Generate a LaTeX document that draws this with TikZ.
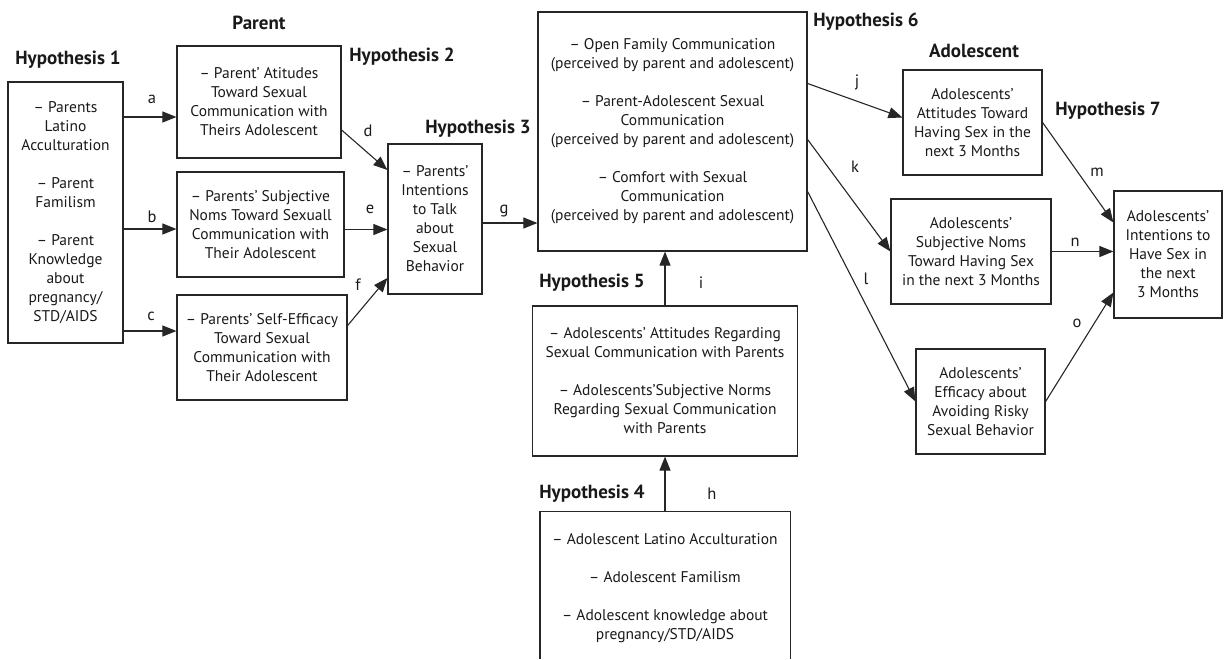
\documentclass[tikz,border=0pt]{standalone}
\usepackage{fontspec}
\setmainfont{PT Sans}
\usetikzlibrary{arrows.meta}

\begin{document}
\begin{tikzpicture} [x=1pt, y=-1pt,
  box/.style={draw=black!85, line width=1.2pt, align=center, text=black!90,
    font=\fontsize{15.5}{19}\selectfont, inner sep=0pt},
  hyp/.style={font=\fontsize{19}{21}\selectfont\bfseries, text=black!90},
  lbl/.style={font=\fontsize{16.5}{18}\selectfont, text=black!90},
  arr/.style={draw=black!85, line width=1.1pt, -{Triangle[length=14pt,width=11pt]}}]
\useasboundingbox (0,0) rectangle (1231,659);
% boxes
\node[box, minimum width=115, minimum height=261] (acc) at (65.5,212.5)
  {-- Parents\\ Latino\\ Acculturation\\[19pt] -- Parent\\ Familism\\[19pt] -- Parent\\ Knowledge\\ about\\ pregnancy/\\ STD/AIDS};
\node[box, minimum width=164, minimum height=112] (patt) at (259,102)
  {-- Parent’ Atitudes\\ Toward Sexual\\ Communication with\\ Theirs Adolescent};
\node[box, minimum width=167, minimum height=105] (pnorm) at (260.5,224.5)
  {-- Parents’ Subjective\\ Noms Toward Sexuall\\ Communication with\\ Their Adolescent};
\node[box, minimum width=170, minimum height=105] (peff) at (262,347.5)
  {-- Parents’ Self-Efficacy\\ Toward Sexual\\ Communication with\\ Their Adolescent};
\node[box, minimum width=94, minimum height=150] (pint) at (435,219)
  {-- Parents’\\ Intentions\\ to Talk\\ about\\ Sexual\\ Behavior};
\node[box, minimum width=269, minimum height=239] (comm) at (672.5,131.5)
  {-- Open Family Communication\\ (perceived by parent and adolescent)\\[19pt]
   -- Parent-Adolescent Sexual\\ Communication\\ (perceived by parent and adolescent)\\[19pt]
   -- Comfort with Sexual\\ Communication\\ (perceived by parent and adolescent)};
\node[box, minimum width=265, minimum height=150] (acomm) at (665,381)
  {-- Adolescents’ Attitudes Regarding\\ Sexual Communication with Parents\\[19pt]
   -- Adolescents’Subjective Norms\\ Regarding Sexual Communication\\ with Parents};
\node[box, draw=none, minimum width=249, minimum height=152] (aacc) at (665,588)
  {-- Adolescent Latino Acculturation\\[19pt] -- Adolescent Familism\\[19pt]
   -- Adolescent knowledge about\\ pregnancy/STD/AIDS};
\draw[black!85, line width=1.2pt] (aacc.north west |- 0,659) -- (aacc.north west)
  -- (aacc.north east) -- (aacc.north east |- 0,659);
\node[box, minimum width=139, minimum height=105] (aatt) at (972.5,122.5)
  {Adolescents’\\ Attitudes Toward\\ Having Sex in the\\ next 3 Months};
\node[box, minimum width=160, minimum height=105] (anorm) at (971,251.5)
  {Adolescents’\\ Subjective Noms\\ Toward Having Sex\\ in the next 3 Months};
\node[box, minimum width=129, minimum height=105] (aeff) at (980.5,401.5)
  {Adolescents’\\ Efficacy about\\ Avoiding Risky\\ Sexual Behavior};
\node[box, minimum width=108, minimum height=127] (aint) at (1168,254.5)
  {Adolescents’\\ Intentions to\\ Have Sex in\\ the next\\ 3 Months};
% headings
\node[hyp] (hyp1) at (68,60) {Hypothesis 1};
\node[hyp] (hyp2) at (402,57) {Hypothesis 2};
\node[hyp] (hyp3) at (478,129) {Hypothesis 3};
\node[hyp] (hyp4) at (592,494) {Hypothesis 4};
\node[hyp] (hyp5) at (592,283) {Hypothesis 5};
\node[hyp] (hyp6) at (866,22) {Hypothesis 6};
\node[hyp] (hyp7) at (1108,111) {Hypothesis 7};
\node[hyp] (parent) at (259,23) {Parent};
\node[hyp] (adol) at (974,51) {Adolescent};
% paths
\foreach \t/\y in {patt/117, pnorm/229, peff/331}
  \draw[arr] (acc.east |- 0,\y) -- (\t.west |- 0,\y);
\draw[arr] ([yshift=-28pt]patt.east) -- ([yshift=49pt]pint.west);
\draw[arr] ([yshift=-5pt]pnorm.east) -- ([yshift=-5pt]pnorm.east -| pint.west);
\draw[arr] ([yshift=22pt]peff.east) -- ([yshift=-59pt]pint.west);
\draw[arr] ([yshift=-4pt]pint.east) -- ([yshift=-4pt]pint.east -| comm.west);
\draw[arr] (aacc.north) -- (acomm.south);
\draw[arr] (acomm.north) -- (acomm.north |- comm.south);
\draw[arr] ([yshift=48pt]comm.east) -- ([yshift=5pt]aatt.west);
\draw[arr] ([yshift=-8pt]comm.east) -- (anorm.west);
\draw[arr] ([yshift=-60pt]comm.east) -- (aeff.west);
\draw[arr] (aatt.east) -- ([yshift=32pt]aint.west);
\draw[arr] (anorm.east) -- (anorm.east -| aint.west);
\draw[arr] (aeff.east) -- ([yshift=-38pt]aint.west);
% path labels
\foreach \l/\x/\y in {a/152/99, b/152/217, c/151/316, d/368/131, e/370/209,
  f/358/285, g/504/211, h/712/494, i/701/283, j/857/82, k/855/167, l/866/279,
  m/1097/172, n/1075/242, o/1077/323}
  \node[lbl] (l\l) at (\x,\y) {\l};
\end{tikzpicture}
\end{document}
